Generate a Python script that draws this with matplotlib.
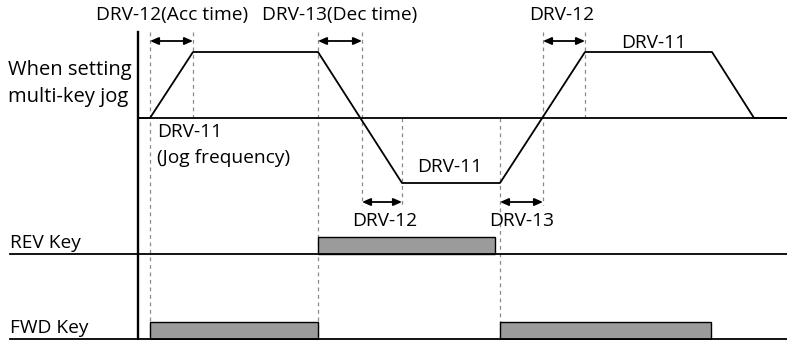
import matplotlib
matplotlib.use("Agg")
import matplotlib.pyplot as plt

plt.rcParams['font.family'] = ['Open Sans', 'DejaVu Sans']

# timing diagram, drawn in a pixel-like coordinate frame (x = time, y = level, y grows down)
profile_t = [138, 150, 193, 318, 402, 500, 585, 712, 754, 787]
profile_y = [118, 118, 52, 52, 183, 183, 52, 52, 118, 118]
zero_y = 118

# dashed guide lines: (x, y_top, y_bottom)
guides_x = [150, 193, 318, 362, 402, 500, 543, 585]
guides_top = [32, 32, 32, 32, 118, 118, 32, 32]
guides_bot = [340, 118, 340, 205, 205, 340, 205, 118]

# double arrows: (x0, x1, y)
arrows_x0 = [150, 318, 543, 362, 500]
arrows_x1 = [193, 362, 585, 402, 543]
arrows_y = [41, 41, 41, 202, 202]

# key signals
rev_line_y = 254
rev_bars = [(318, 495)]
fwd_line_y = 339
fwd_bars = [(150, 318), (500, 711)]
bar_h = 17

labels = ["DRV-12(Acc time)", "DRV-13(Dec time)", "DRV-12", "DRV-11",
          "DRV-11", "(Jog frequency)", "DRV-11", "DRV-12", "DRV-13"]
label_x = [172, 340, 562, 654, 157, 157, 450, 385, 522]
label_y = [15, 15, 15, 43, 132, 158, 167, 221, 221]
label_ha = ["center", "center", "center", "center", "left", "left", "center", "center", "center"]

fig = plt.figure(figsize=(7.87, 3.4), dpi=100)
ax = fig.add_axes([0, 0, 1, 1])
ax.set_xlim(0, 787)
ax.set_ylim(340, 0)
ax.axis("off")

fs = 13.8

# guides
for x, y0, y1 in zip(guides_x, guides_top, guides_bot):
    ax.plot([x, x], [y0, y1], color="#8a8a8a", lw=0.9, ls=(0, (3, 3)), zorder=1)

# axes lines
ax.plot([138, 138], [32, 340], color="black", lw=1.7, zorder=3)
ax.plot([138, 787], [zero_y, zero_y], color="black", lw=1.3, zorder=3)
ax.plot(profile_t, profile_y, color="black", lw=1.3, zorder=4)

# arrows
for x0, x1, y in zip(arrows_x0, arrows_x1, arrows_y):
    ax.annotate("", xy=(x1, y), xytext=(x0, y),
                arrowprops=dict(arrowstyle="<|-|>,head_length=0.5,head_width=0.22",
                                color="black", lw=1.3, shrinkA=0, shrinkB=0))

# key lines and bars
for ly, bars in [(rev_line_y, rev_bars), (fwd_line_y, fwd_bars)]:
    ax.plot([10, 787], [ly, ly], color="black", lw=1.3, zorder=3)
    for b0, b1 in bars:
        ax.add_patch(plt.Rectangle((b0, ly - bar_h), b1 - b0, bar_h,
                                   facecolor="#9b9b9b", edgecolor="black", lw=1.0, zorder=2))

for s, x, y, ha in zip(labels, label_x, label_y, label_ha):
    ax.text(x, y, s, ha=ha, va="center", fontsize=fs)

ax.text(8, 70, "When setting", ha="left", va="center", fontsize=14.5)
ax.text(8, 97, "multi-key jog", ha="left", va="center", fontsize=14.5)
ax.text(10, 243, "REV Key", ha="left", va="center", fontsize=fs)
ax.text(10, 328, "FWD Key", ha="left", va="center", fontsize=fs)

fig.savefig("out.png", dpi=100)
